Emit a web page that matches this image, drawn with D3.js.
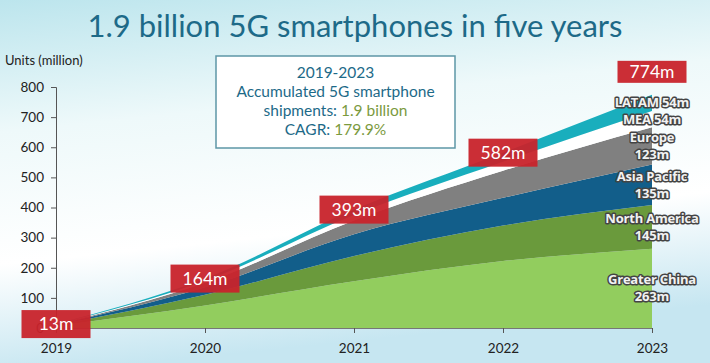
<!DOCTYPE html>
<html lang="en">
<head>
<meta charset="utf-8">
<title>5G smartphones</title>
<script src="https://d3js.org/d3.v7.min.js"></script>
<style>
  body { margin: 0; }
  svg { display: block; font-family: Lato, "Open Sans", sans-serif; }
</style>
</head>
<body>
<div id="chart"></div>
<script>
// years and region values (million units), stacked bottom to top
var years = [2019, 2020, 2021, 2022, 2023];
var regions = ["Greater China", "North America", "Asia Pacific", "Europe", "MEA", "LATAM"];
var greaterChina = [7, 75, 155, 222, 263];
var northAmerica = [2, 35, 84, 118, 145];
var asiaPacific = [2, 25, 72, 92, 135];
var europe = [1, 15, 46, 90, 123];
var mea = [0.5, 7, 18, 30, 54];
var latam = [0.5, 7, 18, 30, 54];
var totals = ["13m", "164m", "393m", "582m", "774m"];
var yTicks = [0, 100, 200, 300, 400, 500, 600, 700, 800];
var endLabels = [["Greater China", "263m"], ["North America", "145m"], ["Asia Pacific", "135m"],
                 ["Europe", "123m"], ["MEA 54m"], ["LATAM 54m"]];

var colors = ["#92cd5e", "#6a9a3c", "#125e8a", "#808080", "#ffffff", "#19aebd"];

var w = 710, h = 363;
var svg = d3.select("#chart").append("svg")
    .attr("width", w)
    .attr("height", h);

// background
var defs = svg.append("defs");
var bg = defs.append("linearGradient").attr("id", "bg")
    .attr("x1", 0).attr("y1", 0).attr("x2", 0.2).attr("y2", 1);
bg.append("stop").attr("offset", "0%").attr("stop-color", "#bce5ed");
bg.append("stop").attr("offset", "35%").attr("stop-color", "#eef9fa");
bg.append("stop").attr("offset", "70%").attr("stop-color", "#ffffff");
bg.append("stop").attr("offset", "100%").attr("stop-color", "#c6e6f1");
svg.append("rect").attr("width", w).attr("height", h).attr("fill", "url(#bg)");

var x = d3.scaleLinear().domain([2019, 2023]).range([56, 652]);
var y = d3.scaleLinear().domain([0, 800]).range([328, 87]);

// stacked data
var rows = years.map(function(yr, i) {
  return {
    year: yr,
    "Greater China": greaterChina[i],
    "North America": northAmerica[i],
    "Asia Pacific": asiaPacific[i],
    "Europe": europe[i],
    "MEA": mea[i],
    "LATAM": latam[i]
  };
});
var series = d3.stack().keys(regions)(rows);

var area = d3.area()
    .x(function(d) { return x(d.data.year); })
    .y0(function(d) { return y(d[0]); })
    .y1(function(d) { return y(d[1]); })
    .curve(d3.curveMonotoneX);

svg.append("g").selectAll("path")
  .data(series)
  .enter().append("path")
    .attr("d", area)
    .attr("fill", function(d, i) { return colors[i]; });

// title
svg.append("text")
    .attr("x", 355).attr("y", 37)
    .attr("text-anchor", "middle")
    .attr("fill", "#1d6a88")
    .style("font-size", "31px")
    .text("1.9 billion 5G smartphones in five years");

svg.append("text")
    .attr("x", 5).attr("y", 65)
    .attr("fill", "#222")
    .style("font-size", "13px")
    .text("Units (million)");

// y axis
var yAxis = svg.append("g")
    .attr("transform", "translate(56,0)")
    .call(d3.axisLeft(y).tickValues(yTicks).tickSize(5).tickPadding(7));
yAxis.select(".domain").attr("stroke", "#555");
yAxis.selectAll(".tick line").attr("stroke", "#555");
yAxis.selectAll(".tick text").attr("fill", "#222").style("font-size", "13.5px")
    .style("font-family", "Lato, sans-serif");

// x axis
var xAxis = svg.append("g")
    .attr("transform", "translate(0,328)")
    .call(d3.axisBottom(x).tickValues(years).tickFormat(d3.format("d")).tickSize(5).tickPadding(10)
      .tickSizeOuter(0));
xAxis.select(".domain").attr("stroke", "#777");
xAxis.selectAll(".tick line").attr("stroke", "#555");
xAxis.selectAll(".tick text").attr("fill", "#222").style("font-size", "13.5px")
    .style("font-family", "Lato, sans-serif");

// info box
var box = svg.append("g");
box.append("rect")
    .attr("x", 216).attr("y", 56).attr("width", 239).attr("height", 92)
    .attr("fill", "#ffffff").attr("stroke", "#5d97a6").attr("stroke-width", 1.5);
var infoLines = [
  [["2019-2023", "#1d6a88"]],
  [["Accumulated 5G smartphone", "#1d6a88"]],
  [["shipments: ", "#1d6a88"], ["1.9 billion", "#7b9a3e"]],
  [["CAGR: ", "#1d6a88"], ["179.9%", "#7b9a3e"]]
];
infoLines.forEach(function(parts, i) {
  var t = box.append("text")
      .attr("x", 335.5).attr("y", 78 + i * 19)
      .attr("text-anchor", "middle")
      .style("font-size", "15.5px");
  parts.forEach(function(p) {
    t.append("tspan").attr("fill", p[1]).text(p[0]);
  });
});

// total boxes
var totalVals = years.map(function(yr, i) { return series[series.length - 1][i][1]; });
var tb = svg.append("g").selectAll("g")
  .data(years)
  .enter().append("g")
    .attr("transform", function(d, i) {
      var dy = i === 4 ? -23 : 0;
      return "translate(" + x(d) + "," + (y(totalVals[i]) + dy) + ")";
    });
tb.append("rect")
    .attr("x", -34.5)
    .attr("y", function(d, i) { return i === 4 ? -11 : -14; })
    .attr("width", 69)
    .attr("height", function(d, i) { return i === 4 ? 22 : 28; })
    .attr("fill", "#c8232b")
    .attr("fill-opacity", 0.95);
tb.append("text")
    .attr("text-anchor", "middle")
    .attr("y", 6)
    .attr("fill", "#ffffff")
    .style("font-size", "17.5px")
    .text(function(d, i) { return totals[i]; });

// region labels at 2023
var last = years.length - 1;
var lab = svg.append("g").selectAll("text")
  .data(series)
  .enter().append("text")
    .attr("text-anchor", "middle")
    .attr("fill", "#f2f2f2")
    .attr("stroke", "#444")
    .attr("stroke-width", 3)
    .attr("stroke-linejoin", "round")
    .attr("paint-order", "stroke")
    .style("font-family", "'Open Sans', sans-serif")
    .style("font-size", "13px")
    .style("font-weight", "bold")
    .style("letter-spacing", "-0.2px");
lab.each(function(s, i) {
  var mid = y((s[last][0] + s[last][1]) / 2);
  var lines = endLabels[i];
  var t = d3.select(this);
  lines.forEach(function(l, j) {
    t.append("tspan")
      .attr("x", x(2023))
      .attr("y", mid + 4.5 + (j - (lines.length - 1) / 2) * 17)
      .text(l);
  });
});
</script>
</body>
</html>
